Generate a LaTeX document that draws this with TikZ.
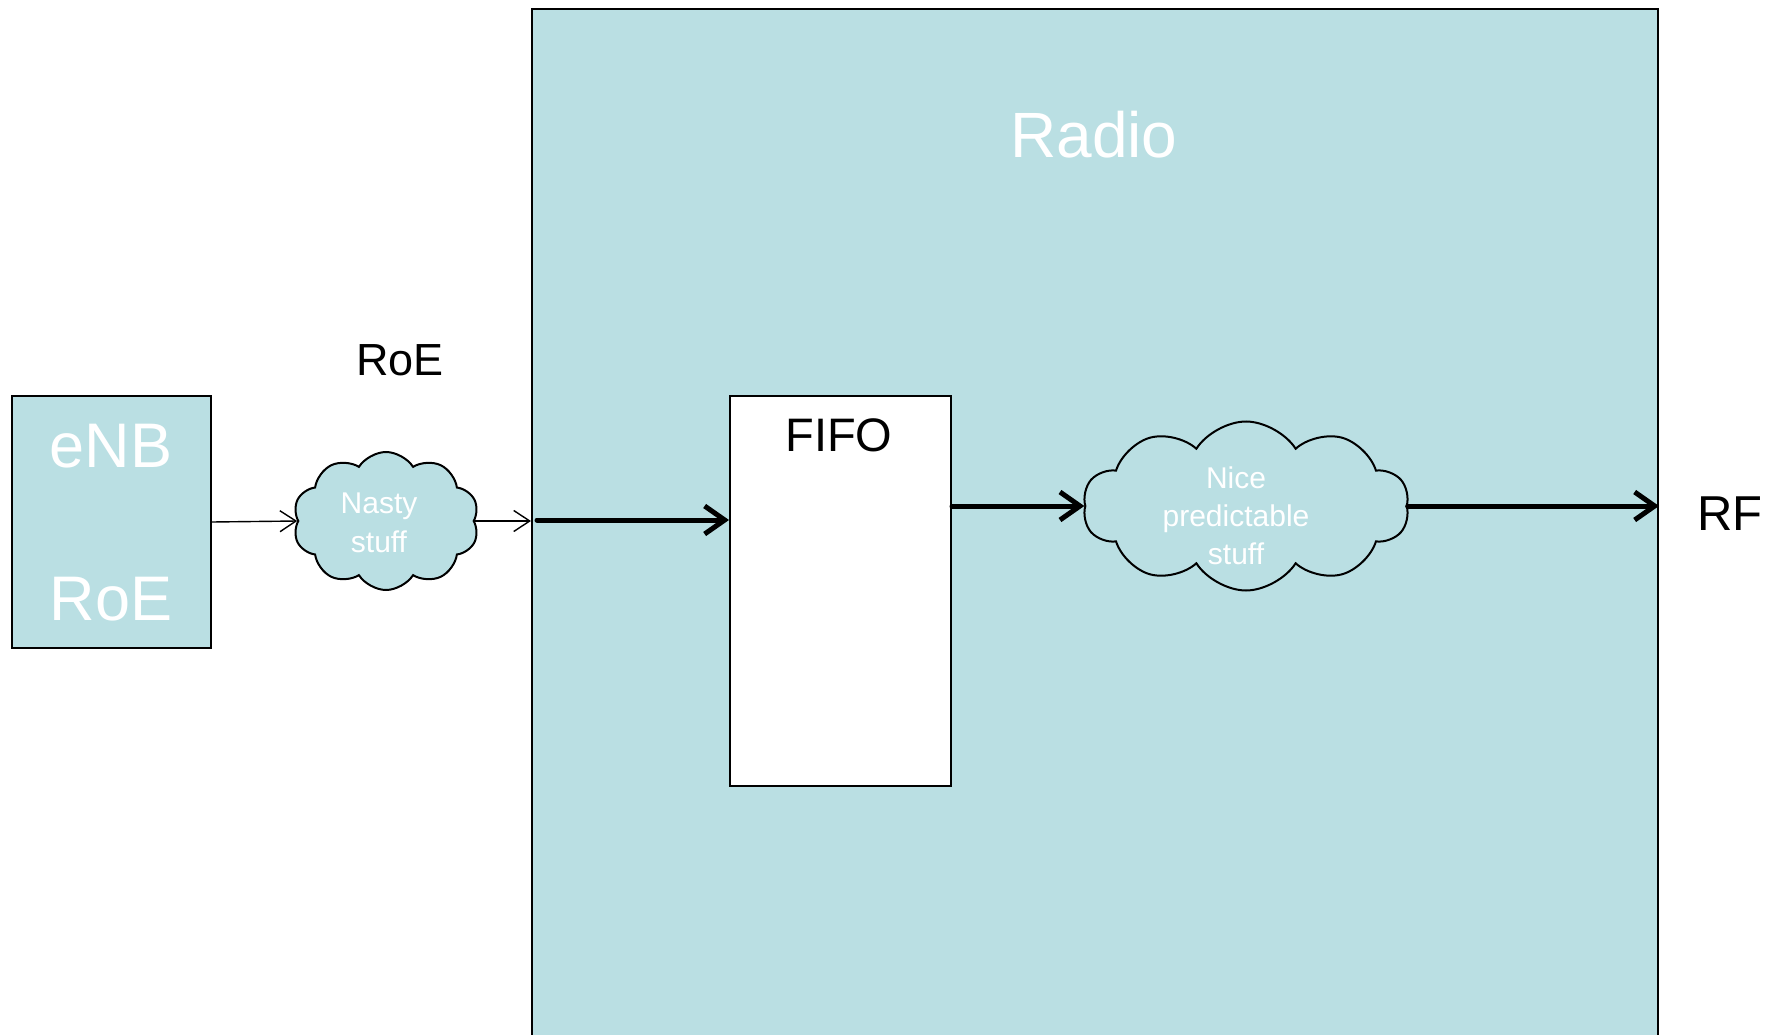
\documentclass[tikz,border=0pt]{standalone}
\usepackage{fontspec}
\setmainfont{Liberation Sans}
\usetikzlibrary{shapes.symbols,arrows.meta}
\definecolor{teal1}{HTML}{BADFE3}
\tikzset{
  boxstyle/.style={draw=black, line width=2pt, fill=teal1, inner sep=0pt, anchor=north west},
  whitebox/.style={draw=black, line width=2pt, fill=white, inner sep=0pt, anchor=north west},
  cloudstyle/.style={cloud, cloud puffs=10, cloud puff arc=115, cloud ignores aspect, draw=black, line width=2pt, fill=teal1, inner sep=0pt},
  cloudtext/.style={align=center, text=white, inner sep=0pt},
  thinarrow/.style={line width=1.4pt, -{Straight Barb[length=16pt,width=21pt,line width=1.4pt]}},
  thickarrow/.style={line width=5pt, line cap=round, -{Straight Barb[length=20pt,width=28pt,line width=5pt]}},
  lbl/.style={anchor=base, inner sep=0pt},
}
\begin{document}
\begin{tikzpicture}[x=1pt,y=-1pt]
\useasboundingbox (0,0) rectangle (1773,1035);
% Radio block
\node[boxstyle, minimum width=1126pt, minimum height=1040pt] (radio) at (531,8) {};
\node[lbl, text=white, font=\fontsize{64}{70}\selectfont] (radiolbl) at (1094,158) {Radio};
% eNB block
\node[boxstyle, minimum width=199pt, minimum height=252pt] (enb) at (11,395) {};
\node[lbl, text=white, font=\fontsize{63}{70}\selectfont] (enblbl) at (111,467) {eNB};
\node[lbl, text=white, font=\fontsize{63}{70}\selectfont] (roeinner) at (111,620) {RoE};
% RoE label
\node[lbl, text=black, font=\fontsize{45}{50}\selectfont] (roelbl) at (400,375) {RoE};
% FIFO
\node[whitebox, minimum width=221pt, minimum height=390pt] (fifo) at (729,395) {};
\node[lbl, text=black, font=\fontsize{47}{52}\selectfont] (fifolbl) at (839,451) {FIFO};
% RF
\node[lbl, text=black, font=\fontsize{49}{54}\selectfont] (rf) at (1730,530) {RF};
% clouds
\node[cloudstyle, minimum width=186pt, minimum height=138pt] (nasty) at (386,521) {};
\node[cloudtext, font=\fontsize{30}{39}\selectfont] (nastylbl) at (379,523) {Nasty\\stuff};
\node[cloudstyle, minimum width=326pt, minimum height=169pt] (nice) at (1246,506) {};
\node[cloudtext, font=\fontsize{30}{38}\selectfont] (nicelbl) at (1236,516) {Nice\\predictable\\stuff};
% connectors
\coordinate (in3) at (537,520);
\draw[thinarrow] (enb.east) -- (nasty.west);
\draw[thinarrow] (nasty.east) -- (radio.west |- nasty.east);
\draw[thickarrow] (in3) -- (fifo.west |- in3);
\draw[thickarrow] (fifo.east |- nice.west) -- (nice.west);
\draw[thickarrow] (nice.east) -- (radio.east |- nice.east);
\end{tikzpicture}
\end{document}
